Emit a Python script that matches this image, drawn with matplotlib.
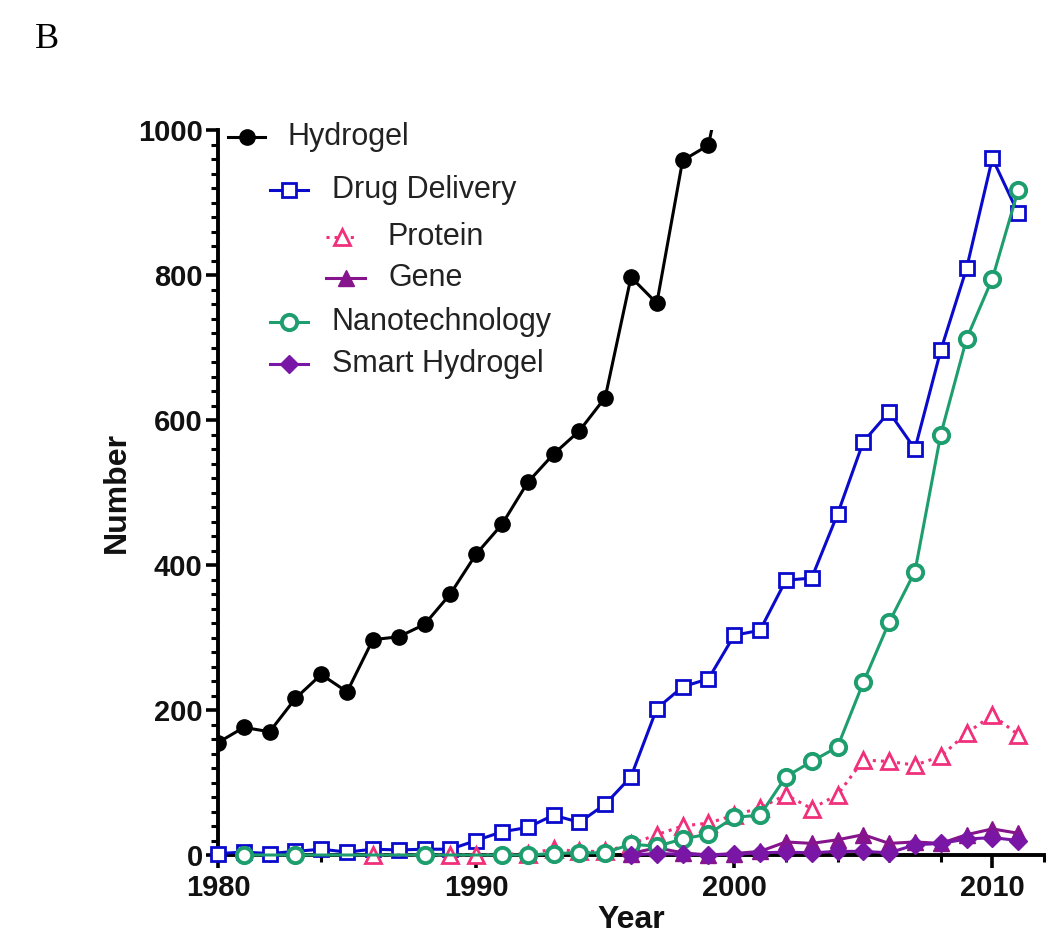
import numpy as np
import matplotlib
matplotlib.use("Agg")
import matplotlib.pyplot as plt
from matplotlib.ticker import MultipleLocator

plt.rcParams['font.family'] = ['Liberation Sans', 'DejaVu Sans']

# data
hydrogel_years = list(range(1980, 2001))
hydrogel = [155, 176, 170, 216, 249, 225, 297, 301, 318, 360, 415, 456, 514, 553,
            585, 631, 797, 761, 958, 979, 1150]

drug_years = list(range(1980, 2012))
drug = [2, 4, 2, 5, 8, 4, 8, 7, 8, 8, 20, 32, 38, 55, 45, 70, 108, 202, 232, 243,
        303, 310, 379, 382, 470, 570, 611, 560, 696, 809, 961, 885]

protein_years = [1986, 1989, 1990, 1992, 1993, 1994, 1995, 1996, 1997, 1998, 1999,
                 2000, 2001, 2002, 2003, 2004, 2005, 2006, 2007, 2008, 2009, 2010, 2011]
protein = [0, 0, 0, 2, 8, 5, 5, 15, 28, 40, 44, 55, 65, 83, 64, 83, 131, 129, 124,
           136, 168, 193, 166]

gene_years = list(range(1996, 2012))
gene = [2, 10, 3, 0, 2, 5, 18, 16, 21, 28, 16, 18, 16, 28, 36, 30]

nano_years = [1981, 1983, 1988, 1991, 1992, 1993, 1994, 1995, 1996, 1997, 1998, 1999,
              2000, 2001, 2002, 2003, 2004, 2005, 2006, 2007, 2008, 2009, 2010, 2011]
nano = [0, 0, 0, 0, 0, 2, 3, 3, 15, 12, 22, 29, 52, 55, 108, 129, 149, 238, 321,
        391, 580, 712, 795, 917]

smart_years = list(range(1996, 2012))
smart = [0, 2, 1, 0, 1, 3, 4, 3, 5, 5, 3, 14, 16, 22, 24, 20]

labels = ["Hydrogel", "Drug Delivery", "Protein", "Gene", "Nanotechnology", "Smart Hydrogel"]

c_black = "black"
c_blue = "#0A0ACC"
c_pink = "#F0307A"
c_gene = "#86148C"
c_green = "#1E9E6E"
c_smart = "#7A16A6"

fig = plt.figure(figsize=(10.5, 9.5), dpi=100)
ax = fig.add_axes([218 / 1050, 1 - 855 / 950, 826 / 1050, 725 / 950])

styles = [
    dict(color=c_black, marker="o", ms=11, mfc=c_black, mec=c_black, lw=2.2, ls="-"),
    dict(color=c_blue, marker="s", ms=9.5, mfc="white", mec=c_blue, mew=2.0, lw=2.2, ls="-"),
    dict(color=c_pink, marker="^", ms=11, mfc="white", mec=c_pink, mew=2.0, lw=2.2, ls=":"),
    dict(color=c_gene, marker="^", ms=11, mfc=c_gene, mec=c_gene, lw=2.2, ls="-"),
    dict(color=c_green, marker="o", ms=11, mfc="white", mec=c_green, mew=2.8, lw=2.2, ls="-"),
    dict(color=c_smart, marker="D", ms=9.5, mfc=c_smart, mec=c_smart, lw=2.2, ls="-"),
]

series = [(hydrogel_years, hydrogel), (drug_years, drug), (protein_years, protein),
          (gene_years, gene), (nano_years, nano), (smart_years, smart)]

# draw bottom ones first so the main lines sit on top
order = [5, 3, 2, 4, 1, 0]
for i in order:
    x, y = series[i]
    ax.plot(x, y, clip_on=(i == 0), zorder=3 + i * 0.1, **styles[i])

ax.set_xlim(1980, 2012)
ax.set_ylim(0, 1000)

for s in ["top", "right"]:
    ax.spines[s].set_visible(False)
for s in ["left", "bottom"]:
    ax.spines[s].set_linewidth(2.8)

ax.xaxis.set_major_locator(MultipleLocator(10))
ax.xaxis.set_minor_locator(MultipleLocator(2))
ax.yaxis.set_major_locator(MultipleLocator(200))
ax.yaxis.set_minor_locator(MultipleLocator(20))
ax.tick_params(axis="both", which="major", direction="out", width=2.6, length=9, pad=2,
               labelsize=21, labelcolor="#111111")
ax.tick_params(axis="x", which="major", pad=5)
ax.tick_params(axis="both", which="minor", direction="out", width=2.2, length=5)
for lab in ax.get_xticklabels() + ax.get_yticklabels():
    lab.set_fontweight("bold")

ax.set_xlabel("Year", fontsize=23, fontweight="bold", labelpad=2, color="#111111")
ax.set_ylabel("Number", fontsize=23, fontweight="bold", labelpad=4, color="#111111")

# legend, laid out by hand with the indents of the original
def px(x, y):
    return (x - 218) / 826, (855 - y) / 725

leg_rows = [
    (228, 265, 137, 288),
    (270, 308, 190, 332),
    (326, 357, 237, 388),
    (326, 365, 278, 388),
    (270, 308, 322, 332),
    (270, 308, 364, 332),
]
for i, (x0, x1, yy, xt) in enumerate(leg_rows):
    a0, b0 = px(x0, yy)
    a1, _ = px(x1, yy)
    st = dict(styles[i])
    mk = dict(marker=st.pop("marker"), ms=st.pop("ms"), mfc=st.pop("mfc"),
              mec=st.pop("mec"), mew=st.pop("mew", 1.0))
    ax.plot([a0, a1], [b0, b0], transform=ax.transAxes, clip_on=False,
            color=st["color"], lw=st["lw"], ls=st["ls"])
    ax.plot([(a0 + a1) / 2], [b0], transform=ax.transAxes, clip_on=False,
            color=st["color"], ls="none", **mk)
    ta, tb = px(xt, yy)
    ax.text(ta, tb, labels[i], transform=ax.transAxes, fontsize=22,
            va="center", ha="left", color="#222222")

fig.text(35 / 1050, 1 - 40 / 950, "B", fontsize=26, family="Liberation Serif",
         va="center", ha="left")

fig.savefig("out.png", dpi=100, facecolor="white")
